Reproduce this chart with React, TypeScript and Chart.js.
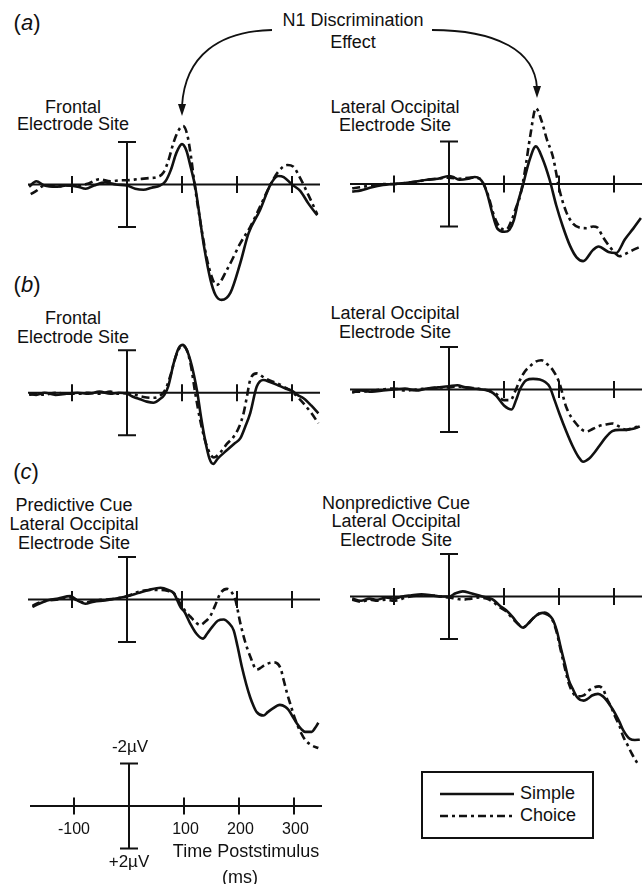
import React, { useEffect, useRef } from "react";
import { Chart, registerables } from "chart.js";

Chart.register(...registerables);

type Pt = [number, number]; // [time ms, amplitude µV] (positive plotted downward)

// ---------------- DATA ----------------
const aFrontalSimple: Pt[] = [
  [-178, 0.1], [-165, -0.15], [-150, 0.05], [-130, 0.1], [-110, 0.05], [-90, 0.1], [-75, 0.2], [-60, 0.05],
  [-40, -0.1], [-20, 0], [0, 0.05], [15, 0.2], [30, 0.25], [45, 0.15], [60, 0.05], [70, -0.15], [80, -0.7],
  [90, -1.5], [100, -1.9], [108, -1.6], [116, -0.8], [124, 0.1], [140, 2.9], [152, 4.5], [161, 5.2], [172, 5.43],
  [188, 5.1], [206, 3.7], [221, 2.3], [242, 1.2], [261, 0], [275, -0.4], [285, -0.35], [300, 0], [315, 0.3],
  [330, 0.9], [346, 1.45],
];
const aFrontalChoice: Pt[] = [
  [-175, 0.45], [-165, 0.3], [-150, 0.05], [-130, 0.1], [-110, 0.05], [-90, 0.05], [-70, -0.05], [-50, -0.25],
  [-30, -0.15], [-10, -0.2], [0, -0.2], [20, -0.25], [40, -0.3], [55, -0.35], [66, -0.55], [75, -1.1], [85, -2.0],
  [95, -2.6], [102, -2.75], [110, -2.3], [117, -1.2], [123, 0], [135, 2.0], [148, 3.8], [163, 4.73], [182, 4.0],
  [206, 2.77], [224, 2.0], [242, 1.04], [261, 0], [275, -0.6], [292, -0.92], [302, -0.85], [315, -0.3], [330, 0.5],
  [346, 1.4],
];
const aOccipitalSimple: Pt[] = [
  [-176, 0.36], [-160, 0.3], [-140, 0.15], [-120, 0.05], [-100, 0], [-80, -0.05], [-60, -0.12], [-40, -0.2],
  [-20, -0.25], [0, -0.38], [10, -0.3], [19, -0.2], [35, -0.25], [47, -0.33], [56, -0.25], [63, 0], [70, 0.5],
  [78, 1.3], [88, 2.1], [101, 2.25], [110, 2.15], [118, 1.7], [126, 0.8], [134, 0.1], [145, -1.0], [158, -1.77],
  [170, -1.2], [183, -0.2], [195, 1.0], [207, 2.0], [220, 2.9], [232, 3.45], [244, 3.63], [262, 3.1], [272, 2.94],
  [290, 3.2], [304, 3.25], [320, 2.6], [335, 2.1], [349, 1.6],
];
const aOccipitalChoice: Pt[] = [
  [-176, 0.2], [-160, 0.15], [-140, 0.05], [-120, 0], [-100, 0], [-80, -0.05], [-60, -0.1], [-40, -0.2],
  [-20, -0.25], [0, -0.3], [20, -0.25], [40, -0.3], [56, -0.25], [63, 0], [72, 0.6], [82, 1.5], [93, 2.05],
  [104, 2.15], [114, 1.7], [122, 1.1], [129, 0.6], [138, -0.6], [148, -2.3], [158, -3.57], [168, -3.0],
  [178, -2.1], [189, -1.28], [201, 0.28], [213, 1.3], [225, 1.85], [237, 2.05], [250, 2.08], [262, 2.0],
  [270, 2.05], [280, 2.5], [292, 2.94], [302, 3.25], [310, 3.4], [320, 3.3], [335, 3.1], [349, 2.94],
];
const bFrontalSimple: Pt[] = [
  [-178, 0.05], [-165, 0.1], [-150, 0], [-130, 0.1], [-110, 0.05], [-90, 0], [-70, 0.05], [-50, -0.05],
  [-30, 0.05], [-15, 0], [0, 0.05], [12, 0.2], [24, 0.31], [36, 0.42], [48, 0.47], [60, 0.3], [68, 0.1],
  [75, -0.3], [85, -1.39], [94, -2.1], [102, -2.25], [109, -2.0], [115, -1.54], [122, -0.8], [128, 0],
  [135, 1.2], [142, 2.22], [150, 3.1], [157, 3.35], [165, 3.1], [182, 2.7], [195, 2.4], [206, 2.15], [215, 1.6],
  [224, 0.97], [236, -0.29], [248, -0.6], [260, -0.5], [273, -0.37], [288, -0.2], [300, -0.1], [310, 0.1],
  [321, 0.26], [335, 0.6], [348, 0.97],
];
const bFrontalChoice: Pt[] = [
  [-178, 0.1], [-165, 0.05], [-150, 0.1], [-130, 0], [-110, 0.05], [-90, 0.05], [-70, 0], [-50, 0.05],
  [-30, -0.05], [-15, 0.05], [0, 0], [15, 0.1], [30, 0.2], [46, 0.24], [60, 0.15], [70, -0.15], [80, -0.9],
  [90, -1.8], [100, -2.2], [108, -2.05], [116, -1.3], [124, 0], [134, 1.4], [145, 2.5], [158, 3.05], [170, 2.8],
  [182, 2.4], [194, 2.07], [204, 1.6], [212, 0.97], [218, 0.2], [224, -0.6], [236, -0.91], [250, -0.7],
  [262, -0.55], [273, -0.45], [287, -0.25], [300, -0.05], [312, 0.25], [321, 0.5], [335, 0.95], [348, 1.44],
];
const bOccipitalSimple: Pt[] = [
  [-176, 0.15], [-160, 0.05], [-140, 0.1], [-120, 0.05], [-100, 0], [-80, -0.05], [-60, 0.05], [-40, -0.05],
  [-20, -0.1], [0, -0.15], [15, -0.2], [30, -0.1], [45, -0.05], [60, 0], [72, 0.05], [86, 0.3], [100, 0.75],
  [114, 0.94], [122, 0.5], [129, 0], [141, -0.44], [153, -0.5], [165, -0.47], [175, -0.35], [183, -0.13],
  [192, 0.5], [201, 1.15], [213, 1.95], [225, 2.67], [235, 3.15], [244, 3.4], [255, 3.25], [265, 2.95],
  [273, 2.67], [285, 2.25], [297, 1.96], [310, 1.9], [322, 1.9], [335, 1.85], [347, 1.74],
];
const bOccipitalChoice: Pt[] = [
  [-176, 0.1], [-160, 0.1], [-140, 0.05], [-120, 0], [-100, -0.05], [-80, 0.05], [-60, 0], [-40, -0.05],
  [-20, -0.1], [0, -0.1], [15, -0.15], [30, -0.1], [50, -0.05], [70, 0.05], [85, 0.2], [100, 0.5], [112, 0.5],
  [120, 0.1], [129, -0.44], [138, -0.85], [146, -1.06], [157, -1.3], [168, -1.38], [178, -1.2], [189, -0.91],
  [201, -0.29], [213, 0.81], [231, 1.6], [250, 1.98], [262, 1.85], [273, 1.72], [285, 1.65], [297, 1.6],
  [310, 1.75], [322, 1.9], [335, 1.8], [347, 1.74],
];
const cPredictiveSimple: Pt[] = [
  [-172, 0.35], [-160, 0.2], [-145, 0.05], [-125, -0.05], [-103, -0.16], [-90, 0.05], [-76, 0.2], [-60, 0.1],
  [-40, 0.05], [-20, -0.05], [0, -0.15], [20, -0.3], [40, -0.45], [61, -0.55], [75, -0.45], [85, -0.3],
  [97, 0.34], [105, 0.6], [115, 1.13], [126, 1.6], [138, 1.84], [146, 1.6], [155, 1.29], [165, 1.0], [176, 0.94],
  [185, 1.1], [194, 1.45], [201, 2.2], [209, 3.18], [217, 4.0], [224, 4.6], [230, 5.0], [236, 5.3], [248, 5.46],
  [256, 5.3], [264, 5.15], [278, 4.96], [288, 5.05], [294, 5.2], [301, 5.5], [309, 5.83], [317, 6.1],
  [324, 6.23], [336, 6.23], [342, 6.05], [348, 5.8],
];
const cPredictiveChoice: Pt[] = [
  [-172, 0.3], [-160, 0.15], [-145, 0.05], [-125, 0], [-103, -0.1], [-90, 0.05], [-76, 0.15], [-60, 0.05],
  [-40, 0], [-20, -0.05], [0, -0.15], [20, -0.35], [40, -0.45], [61, -0.45], [75, -0.4], [85, -0.3], [97, 0.2],
  [108, 0.6], [115, 0.8], [124, 1.05], [133, 1.2], [142, 1.05], [151, 0.8], [160, 0.3], [170, -0.3], [182, -0.5],
  [190, -0.35], [197, 0], [206, 1.1], [215, 2.0], [224, 2.67], [236, 3.3], [244, 3.2], [251, 3.07], [267, 2.96],
  [279, 3.22], [285, 3.8], [291, 4.4], [298, 5.0], [306, 5.65], [315, 6.2], [324, 6.6], [335, 6.85], [348, 6.99],
];
const cNonpredictiveSimple: Pt[] = [
  [-176, 0.1], [-160, 0.2], [-145, 0.1], [-130, 0.15], [-115, 0.05], [-100, 0.1], [-85, 0], [-70, -0.05],
  [-50, -0.1], [-30, -0.05], [-15, 0], [0, 0], [12, -0.15], [25, -0.24], [40, -0.15], [55, -0.05], [68, 0.05],
  [80, 0.15], [92, 0.42], [104, 0.65], [116, 0.97], [126, 1.3], [135, 1.47], [143, 1.3], [152, 1.05], [161, 0.85],
  [170, 0.77], [179, 0.85], [188, 1.05], [196, 1.6], [203, 2.38], [211, 3.2], [218, 3.95], [226, 4.4],
  [233, 4.74], [245, 4.9], [253, 4.8], [260, 4.66], [271, 4.58], [280, 4.7], [287, 4.9], [295, 5.2], [302, 5.5],
  [310, 5.9], [317, 6.3], [329, 6.7], [338, 6.75], [347, 6.74],
];
const cNonpredictiveChoice: Pt[] = [
  [-176, 0.15], [-160, 0.25], [-145, 0.15], [-130, 0.2], [-115, 0.15], [-100, 0.2], [-85, 0.1], [-70, 0],
  [-50, -0.05], [-30, -0.05], [-15, 0], [0, 0.05], [12, 0.1], [25, 0.15], [40, 0.1], [55, 0.05], [68, 0.1],
  [80, 0.25], [92, 0.5], [104, 0.7], [116, 1.05], [126, 1.3], [135, 1.45], [143, 1.3], [152, 1.05], [161, 0.85],
  [170, 0.75], [179, 0.8], [188, 1.1], [196, 1.7], [203, 2.5], [211, 3.4], [218, 4.1], [226, 4.55], [233, 4.7],
  [245, 4.65], [253, 4.45], [262, 4.3], [273, 4.23], [281, 4.4], [287, 4.8], [295, 5.2], [302, 5.65], [310, 6.1],
  [317, 6.6], [325, 7.0], [332, 7.37], [338, 7.65], [344, 7.9],
];

const TICK_TIMES = [-100, 100, 200, 300];
const TICK_LABELS = ["-100", "100", "200", "300"];
const SCALE_BAR_UV = 2;
const SCALE_BAR_LABELS = ["-2\u00b5V", "+2\u00b5V"];
const SERIES_NAMES = ["Simple", "Choice"];
const X_MIN = -180;
const X_MAX = 351;

// ---------------- LAYOUT ----------------
const PX_PER_UV = 21.25;
const FONT = '"Liberation Sans", Arial, Helvetica, sans-serif';
const INK = "#111";
const CHOICE_DASH = [8, 4, 3, 4];

type PanelProps = {
  left: number;
  top: number;
  width: number;
  height: number;
  axisY: number;
  simple?: Pt[];
  choice?: Pt[];
  labels?: boolean;
};

function makeAxesPlugin(labels: boolean) {
  return {
    id: "erpAxes",
    beforeDatasetsDraw(chart: any) {
      const { ctx, chartArea, scales } = chart;
      const xs = scales.x;
      const ys = scales.y;
      const y0 = ys.getPixelForValue(0);
      ctx.save();
      ctx.strokeStyle = INK;
      ctx.fillStyle = INK;
      ctx.lineWidth = 2;
      ctx.lineCap = "butt";
      ctx.beginPath();
      ctx.moveTo(chartArea.left, y0);
      ctx.lineTo(chartArea.right, y0);
      ctx.stroke();
      TICK_TIMES.forEach((t) => {
        const px = Math.round(xs.getPixelForValue(t));
        ctx.beginPath();
        ctx.moveTo(px, y0 - 8.5);
        ctx.lineTo(px, y0 + 8.5);
        ctx.stroke();
      });
      const bx = Math.round(xs.getPixelForValue(0));
      const yTop = ys.getPixelForValue(-SCALE_BAR_UV);
      const yBot = ys.getPixelForValue(SCALE_BAR_UV);
      ctx.beginPath();
      ctx.moveTo(bx, yTop);
      ctx.lineTo(bx, yBot);
      ctx.moveTo(bx - 9, yTop);
      ctx.lineTo(bx + 9, yTop);
      ctx.moveTo(bx - 9, yBot);
      ctx.lineTo(bx + 9, yBot);
      ctx.stroke();
      if (labels) {
        ctx.textAlign = "center";
        ctx.textBaseline = "middle";
        ctx.font = `16px ${FONT}`;
        TICK_TIMES.forEach((t, i) => {
          ctx.fillText(TICK_LABELS[i], xs.getPixelForValue(t) + (t > 0 ? 1.5 : 0), y0 + 24);
        });
        ctx.font = `17px ${FONT}`;
        ctx.fillText(SCALE_BAR_LABELS[0], bx + 1, yTop - 16);
        ctx.fillText(SCALE_BAR_LABELS[1], bx, yBot + 14);
      }
      ctx.restore();
    },
  };
}

function Panel({ left, top, width, height, axisY, simple, choice, labels }: PanelProps) {
  const ref = useRef<HTMLCanvasElement | null>(null);
  useEffect(() => {
    if (!ref.current) return;
    const yMin = (top - axisY) / PX_PER_UV;
    const yMax = (top + height - axisY) / PX_PER_UV;
    const datasets: any[] = [];
    if (simple) {
      datasets.push({
        label: SERIES_NAMES[0],
        data: simple.map(([t, v]) => ({ x: t, y: v })),
        borderColor: INK,
        borderWidth: 2.6,
        pointRadius: 0,
        fill: false,
        cubicInterpolationMode: "monotone",
        borderJoinStyle: "round",
      });
    }
    if (choice) {
      datasets.push({
        label: SERIES_NAMES[1],
        data: choice.map(([t, v]) => ({ x: t, y: v })),
        borderColor: INK,
        borderWidth: 2.6,
        borderDash: CHOICE_DASH,
        pointRadius: 0,
        fill: false,
        cubicInterpolationMode: "monotone",
        borderJoinStyle: "round",
      });
    }
    const chart = new Chart(ref.current, {
      type: "line",
      data: { datasets },
      options: {
        animation: false,
        responsive: false,
        maintainAspectRatio: false,
        events: [],
        layout: { padding: 0 },
        plugins: { legend: { display: false }, tooltip: { enabled: false } },
        scales: {
          x: { type: "linear", min: X_MIN, max: X_MAX, display: false },
          y: { type: "linear", min: yMin, max: yMax, reverse: true, display: false },
        },
      },
      plugins: [makeAxesPlugin(!!labels)],
    } as any);
    return () => chart.destroy();
  }, [left, top, width, height, axisY, simple, choice, labels]);
  return (
    <canvas
      ref={ref}
      width={width}
      height={height}
      style={{ position: "absolute", left, top, width, height }}
    />
  );
}

function Label({ x, y, lines, size = 18, lh = 18.5, italic }: { x: number; y: number; lines: React.ReactNode[]; size?: number; lh?: number; italic?: boolean }) {
  return (
    <div
      style={{
        position: "absolute",
        left: x,
        top: y,
        transform: "translate(-50%, -50%)",
        fontFamily: FONT,
        fontSize: size,
        lineHeight: `${lh}px`,
        color: INK,
        textAlign: "center",
        whiteSpace: "nowrap",
        fontStyle: italic ? "italic" : "normal",
      }}
    >
      {lines.map((l, i) => (
        <div key={i}>{l}</div>
      ))}
    </div>
  );
}

export default function App() {
  useEffect(() => {
    document.body.style.margin = "0";
    document.body.style.overflow = "hidden";
  }, []);
  return (
    <div style={{ position: "absolute", left: 0, top: 0, width: 642, height: 884, background: "#fff", overflow: "hidden" }}>
      {/* annotation arrows */}
      <svg width={642} height={130} style={{ position: "absolute", left: 0, top: 0 }}>
        <path d="M 272 30 C 220 31, 185 55, 182 106" fill="none" stroke={INK} strokeWidth={1.8} />
        <polygon points="178,104 186,104 182,116" fill={INK} />
        <path d="M 432 30 C 495 30, 535 50, 537 88" fill="none" stroke={INK} strokeWidth={1.8} />
        <polygon points="533,86 541,86 537,98" fill={INK} />
      </svg>
      <Label x={353} y={31} lines={["N1 Discrimination", "Effect"]} lh={21.5} />

      <Label x={27} y={23} size={22} lines={[<span>(<i>a</i>)</span>]} />
      <Label x={27} y={285} size={22} lines={[<span>(<i>b</i>)</span>]} />
      <Label x={26} y={472} size={22} lines={[<span>(<i>c</i>)</span>]} />

      <Label x={73} y={115.5} lines={["Frontal", "Electrode Site"]} lh={17.5} />
      <Label x={395} y={116} lines={["Lateral Occipital", "Electrode Site"]} lh={18} />
      <Label x={73} y={327.5} lines={["Frontal", "Electrode Site"]} lh={19} />
      <Label x={395} y={322.5} lines={["Lateral Occipital", "Electrode Site"]} lh={19} />
      <Label x={74} y={524} lines={["Predictive Cue", "Lateral Occipital", "Electrode Site"]} lh={18.8} />
      <Label x={396} y={521} lines={["Nonpredictive Cue", "Lateral Occipital", "Electrode Site"]} lh={18.3} />

      <Panel left={28} top={95} width={292} height={215} axisY={184.5} simple={aFrontalSimple} choice={aFrontalChoice} />
      <Panel left={350} top={95} width={292} height={215} axisY={184} simple={aOccipitalSimple} choice={aOccipitalChoice} />
      <Panel left={28} top={340} width={292} height={130} axisY={392.7} simple={bFrontalSimple} choice={bFrontalChoice} />
      <Panel left={350} top={340} width={292} height={130} axisY={389.5} simple={bOccipitalSimple} choice={bOccipitalChoice} />
      <Panel left={28} top={545} width={292} height={230} axisY={599.5} simple={cPredictiveSimple} choice={cPredictiveChoice} />
      <Panel left={350} top={545} width={292} height={230} axisY={596.5} simple={cNonpredictiveSimple} choice={cNonpredictiveChoice} />
      <Panel left={30} top={735} width={292} height={145} axisY={806} labels />

      <Label x={246} y={851} lines={["Time Poststimulus"]} />
      <Label x={240} y={877} lines={["(ms)"]} />

      {/* legend */}
      <div
        style={{
          position: "absolute",
          left: 421,
          top: 771,
          width: 173,
          height: 68,
          border: `2.5px solid ${INK}`,
          boxSizing: "border-box",
          background: "#fff",
        }}
      />
      <svg width={642} height={884} style={{ position: "absolute", left: 0, top: 0, pointerEvents: "none" }}>
        <line x1={440} y1={794} x2={514} y2={794} stroke={INK} strokeWidth={2.6} />
        <line x1={440} y1={816} x2={514} y2={816} stroke={INK} strokeWidth={2.6} strokeDasharray={CHOICE_DASH.join(" ")} />
      </svg>
      <div style={{ position: "absolute", left: 520, top: 793, transform: "translateY(-50%)", fontFamily: FONT, fontSize: 18, color: INK, whiteSpace: "nowrap" }}>
        {SERIES_NAMES[0]}
      </div>
      <div style={{ position: "absolute", left: 520, top: 815, transform: "translateY(-50%)", fontFamily: FONT, fontSize: 18, color: INK, whiteSpace: "nowrap" }}>
        {SERIES_NAMES[1]}
      </div>
    </div>
  );
}
